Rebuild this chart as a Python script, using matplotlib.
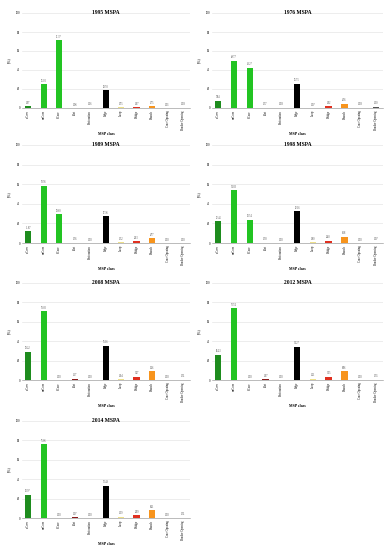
import matplotlib
matplotlib.use("Agg")
import matplotlib.pyplot as plt

plt.rcParams['font.family'] = ['Liberation Serif', 'DejaVu Serif']

categories = ["s-Core", "m-Core", "l-Core", "Islet", "Perforation", "Edge",
              "Loop", "Bridge", "Branch", "Core Opening", "Border Opening"]
colors = ["#1e8c1e", "#22c422", "#22c422", "#8b1a1a", "#999999", "#000000",
          "#eee08a", "#e03020", "#f7941d", "#999999", "#555555"]

titles = ["1995 MSPA", "1976 MSPA", "1989 MSPA", "1998 MSPA",
          "2008 MSPA", "2012 MSPA", "2014 MSPA"]

v1995 = [1.97, 25.00, 71.37, 0.06, 0.16, 18.70, 0.75, 1.07, 1.75, 0.01, 0.08]
v1976 = [7.84, 49.77, 42.27, 0.37, 0.08, 25.75, 0.07, 1.92, 4.36, 0.08, 1.30]
v1989 = [11.87, 58.56, 29.60, 0.36, 0.00, 27.36, 0.52, 2.03, 4.77, 0.00, 0.00]
v1998 = [22.45, 54.03, 23.54, 0.30, 0.00, 32.16, 0.60, 2.40, 6.18, 0.00, 0.07]
v2008 = [29.22, 70.80, 0.00, 1.17, 0.00, 35.16, 1.04, 3.27, 9.26, 0.00, 0.31]
v2012 = [26.23, 73.74, 0.00, 1.07, 0.00, 34.27, 1.21, 3.35, 8.96, 0.00, 0.35]
v2014 = [23.97, 75.86, 0.00, 0.97, 0.00, 33.49, 1.39, 2.99, 8.21, 0.00, 0.31]
series = [v1995, v1976, v1989, v1998, v2008, v2012, v2014]

yticks = [0, 20, 40, 60, 80, 100]

W, H = 392, 550
fig = plt.figure(figsize=(W / 100, H / 100), dpi=100)

# (left px, width px) per column ; (zero-line px, top px) per row
cols = [(22, 168), (212, 171)]
rows = [(108, 13), (243, 145), (380, 283), (518, 421)]

for i, (title, vals) in enumerate(zip(titles, series)):
    r, c = divmod(i, 2)
    y0, y1 = rows[r]
    l, wpx = cols[c]
    ax = fig.add_axes([l / W, 1 - y0 / H, wpx / W, (y0 - y1) / H])
    x = list(range(len(categories)))
    ax.bar(x, vals, width=0.4, color=colors, zorder=3)
    for xi, v in zip(x, vals):
        ax.text(xi, v + 1.5, f"{v:.2f}", ha='center', va='bottom', fontsize=1.8, color='#444444')
    ax.set_ylim(0, 100)
    ax.set_xlim(-0.4, len(categories) - 0.55)
    ax.set_yticks(yticks)
    ax.set_yticklabels([str(t) for t in yticks], fontsize=2.2)
    ax.set_xticks(x)
    ax.set_xticklabels(categories, rotation=90, fontsize=2.2)
    ax.tick_params(length=0, pad=1.5)
    ax.grid(axis='y', color='#e6e6e6', linewidth=0.5, zorder=0)
    for s in ['top', 'right', 'left']:
        ax.spines[s].set_visible(False)
    ax.spines['bottom'].set_color('#888888')
    ax.spines['bottom'].set_linewidth(0.4)
    ax.set_ylabel("(%)", fontsize=2.8, labelpad=3)
    ax.set_xlabel("MSP class", fontsize=2.8, fontweight='bold', labelpad=2)
    ax.text(0.5, 1.0, title, transform=ax.transAxes, ha='center', va='center',
            fontsize=4, fontweight='bold')

fig.savefig("out.png", dpi=100, facecolor='white')
